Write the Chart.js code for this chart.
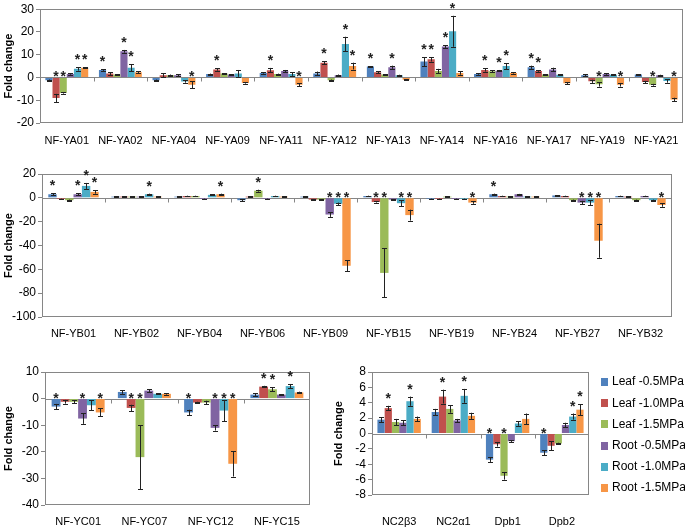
<!DOCTYPE html>
<html>
<head>
<meta charset="utf-8">
<script src="https://cdn.jsdelivr.net/npm/chart.js@4.4.0/dist/chart.umd.min.js"></script>
<style>
  html, body { margin: 0; padding: 0; background: #fff; overflow: hidden; width: 685px; height: 529px; }
  .panel { position: absolute; }
  canvas { display: block; }
</style>
</head>
<body>
<div class="panel" style="left:0;top:0;"><canvas id="chartA" width="685" height="150"></canvas></div>
<div class="panel" style="left:0;top:158px;"><canvas id="chartB" width="685" height="182"></canvas></div>
<div class="panel" style="left:0;top:345px;"><canvas id="chartC" width="340" height="184"></canvas></div>
<div class="panel" style="left:330px;top:345px;"><canvas id="chartD" width="355" height="184"></canvas></div>
<script>
const seriesNames = ['Leaf -0.5MPa', 'Leaf -1.0MPa', 'Leaf -1.5MPa', 'Root -0.5MPa', 'Root -1.0MPa', 'Root -1.5MPa'];
const seriesColors = ['#4F81BD', '#C0504D', '#9BBB59', '#8064A2', '#4BACC6', '#F79646'];

// panel A: NF-YA
const aCats = ['NF-YA01', 'NF-YA02', 'NF-YA04', 'NF-YA09', 'NF-YA11', 'NF-YA12', 'NF-YA13', 'NF-YA14', 'NF-YA16', 'NF-YA17', 'NF-YA19', 'NF-YA21'];
const aVals = [
  [-1.2, 3.3, -1.2, 1.5, 2.0, 1.8, 4.8, 7.0, 1.5, 4.5, 1.0, 1.3],
  [-9.0, 1.7, 1.0, 3.5, 3.2, 6.5, 2.3, 8.0, 3.3, 2.8, -1.7, -2.0],
  [-6.8, 1.3, 1.0, 1.7, 1.5, -1.2, 1.3, 2.8, 2.7, 1.3, -3.0, -3.2],
  [1.5, 11.5, 1.0, 1.3, 2.8, 1.0, 4.5, 13.6, 3.0, 3.5, 1.5, 1.0],
  [3.8, 4.3, -1.8, 1.8, 1.5, 14.7, 1.0, 20.3, 5.0, 1.2, 1.2, -1.5],
  [4.3, 2.3, -3.2, -2.4, -3.2, 5.0, -1.0, 2.0, 2.0, -2.5, -3.2, -9.7]
];
const aErrs = [
  [0.3, 0.4, 0.3, 0.2, 0.3, 0.8, 0.2, 2.0, 0.3, 0.7, 0.4, 0.2],
  [1.8, 0.6, 0.8, 0.5, 1.0, 0.7, 0.5, 1.0, 0.7, 0.3, 0.7, 0.5],
  [0.3, 0.2, 0.3, 0.2, 0.2, 0.3, 0.2, 1.0, 0.5, 0.2, 1.0, 0.4],
  [0.3, 0.6, 0.5, 0.2, 0.5, 0.3, 0.7, 0.6, 0.3, 0.8, 0.3, 0.2],
  [0.8, 1.5, 0.5, 1.5, 0.8, 3.2, 0.2, 6.8, 1.3, 0.2, 0.2, 0.8],
  [0.3, 0.4, 1.5, 0.3, 0.7, 1.5, 0.2, 0.8, 0.3, 0.5, 0.8, 0.8]
];
const aStars = [
  [0, 1, 0, 0, 0, 0, 1, 1, 0, 1, 0, 0],
  [1, 0, 0, 1, 1, 1, 0, 1, 1, 1, 0, 0],
  [1, 0, 0, 0, 0, 0, 0, 0, 0, 0, 1, 1],
  [0, 1, 0, 0, 0, 0, 1, 1, 1, 0, 0, 0],
  [1, 1, 0, 0, 0, 1, 0, 1, 1, 0, 0, 0],
  [1, 0, 1, 0, 1, 1, 0, 0, 0, 0, 1, 1]
];

// panel B: NF-YB
const bCats = ['NF-YB01', 'NF-YB02', 'NF-YB04', 'NF-YB06', 'NF-YB09', 'NF-YB15', 'NF-YB19', 'NF-YB24', 'NF-YB27', 'NF-YB32'];
const bVals = [
  [3.0, 1.0, 1.0, -2.0, 1.0, 1.5, -1.0, 3.0, 2.0, 1.5],
  [-1.0, 1.0, 1.5, 1.0, -1.5, -3.5, -1.0, 1.5, 1.5, 1.0],
  [-2.0, 1.0, 1.5, 6.0, -1.5, -63.0, 1.0, 1.0, -2.0, -2.0],
  [3.0, 1.0, -1.0, -1.0, -14.0, -1.5, -1.0, 3.0, -4.0, 1.5],
  [10.0, 3.0, 2.5, 1.5, -5.0, -4.5, -1.0, 1.0, -4.0, -2.0],
  [5.0, 1.0, 3.0, 1.0, -57.0, -14.5, -4.0, 1.0, -36.0, -6.0]
];
const bErrs = [
  [0.8, 0.3, 0.3, 1.0, 0.3, 0.3, 0.3, 0.5, 0.3, 0.3],
  [0.3, 0.3, 0.3, 0.3, 0.3, 0.5, 0.3, 0.3, 0.3, 0.3],
  [0.5, 0.3, 0.3, 0.8, 0.3, 20.5, 0.3, 0.3, 0.5, 0.5],
  [0.8, 0.3, 0.3, 0.3, 2.0, 0.3, 0.3, 0.3, 1.5, 0.3],
  [2.5, 0.5, 0.5, 0.3, 1.0, 2.5, 0.3, 0.3, 2.0, 0.5],
  [1.5, 0.3, 0.5, 0.3, 4.8, 4.6, 1.0, 0.3, 14.3, 1.5]
];
const bStars = [
  [1, 0, 0, 0, 0, 0, 0, 1, 0, 0],
  [0, 0, 0, 0, 0, 1, 0, 0, 0, 0],
  [0, 0, 0, 1, 0, 1, 0, 0, 0, 0],
  [1, 0, 0, 0, 1, 0, 0, 0, 1, 0],
  [1, 1, 0, 0, 1, 1, 0, 0, 1, 0],
  [1, 0, 1, 0, 1, 1, 1, 0, 1, 1]
];

// panel C: NF-YC
const cCats = ['NF-YC01', 'NF-YC07', 'NF-YC12', 'NF-YC15'];
const cVals = [
  [-3.0, 2.5, -5.2, 1.5],
  [-1.2, -3.5, -1.5, 4.5],
  [-1.2, -22.0, -1.5, 3.5],
  [-7.5, 3.0, -11.0, 1.5],
  [-2.5, 1.8, -4.5, 4.7],
  [-5.2, 1.8, -24.5, 2.3]
];
const cErrs = [
  [1.0, 0.7, 1.0, 0.5],
  [0.7, 1.2, 0.3, 0.3],
  [0.5, 12.0, 0.7, 0.7],
  [2.0, 0.5, 1.0, 0.2],
  [1.8, 0.2, 4.0, 0.8],
  [1.5, 0.3, 4.8, 0.3]
];
const cStars = [
  [1, 0, 1, 0],
  [0, 1, 0, 1],
  [0, 1, 0, 1],
  [1, 0, 1, 0],
  [0, 0, 1, 1],
  [1, 0, 1, 0]
];

// panel D: NC2 / Dpb
const dCats = ['NC2β3', 'NC2α1', 'Dpb1', 'Dpb2'];
const dVals = [
  [1.8, 2.8, -3.4, -2.5],
  [3.3, 4.8, -1.4, -1.6],
  [1.5, 3.2, -5.5, -1.3],
  [1.4, 1.7, -1.0, 1.1],
  [4.2, 4.9, 1.3, 2.2],
  [1.9, 2.3, 1.9, 3.1]
];
const dErrs = [
  [0.3, 0.4, 0.3, 0.3],
  [0.3, 0.9, 0.3, 0.6],
  [0.4, 0.5, 0.5, 0.1],
  [0.3, 0.2, 0.1, 0.3],
  [0.6, 0.9, 0.3, 0.4],
  [0.3, 0.4, 0.7, 0.7]
];
const dStars = [
  [0, 0, 1, 1],
  [1, 1, 0, 0],
  [0, 0, 1, 0],
  [0, 0, 0, 0],
  [1, 1, 0, 1],
  [0, 0, 0, 1]
];

const FONT = 'Liberation Sans';

// frame, zero line, category ticks, error bars and asterisks
const excelStyle = {
  id: 'excelStyle',
  beforeDatasetsDraw(chart) {
    const { ctx, chartArea: a, scales: { x, y } } = chart;
    const y0 = Math.round(y.getPixelForValue(0)) + 0.5;
    ctx.save();
    ctx.strokeStyle = '#868686';
    ctx.lineWidth = 1;
    ctx.strokeRect(Math.round(a.left) + 0.5, Math.round(a.top) + 0.5, Math.round(a.right - a.left) - 1, Math.round(a.bottom - a.top) - 1);
    ctx.beginPath();
    ctx.moveTo(a.left, y0);
    ctx.lineTo(a.right, y0);
    const n = x.ticks.length;
    const w = (a.right - a.left) / n;
    for (let i = 1; i < n; i++) {
      const px = Math.round(a.left + i * w) + 0.5;
      ctx.moveTo(px, y0);
      ctx.lineTo(px, y0 + 4);
    }
    ctx.stroke();
    ctx.restore();
  },
  afterDatasetsDraw(chart) {
    const { ctx, scales: { y } } = chart;
    const y0 = y.getPixelForValue(0);
    ctx.save();
    chart.data.datasets.forEach((ds, i) => {
      const meta = chart.getDatasetMeta(i);
      meta.data.forEach((bar, j) => {
        const v = ds.data[j];
        const e = ds.errors[j];
        const yt = y.getPixelForValue(v + e);
        const yb = y.getPixelForValue(v - e);
        ctx.strokeStyle = '#222';
        ctx.lineWidth = 1;
        ctx.beginPath();
        const bx = Math.round(bar.x) + 0.5;
        ctx.moveTo(bx, yt); ctx.lineTo(bx, yb);
        ctx.moveTo(bx - 2.5, Math.round(yt) + 0.5); ctx.lineTo(bx + 2.5, Math.round(yt) + 0.5);
        ctx.moveTo(bx - 2.5, Math.round(yb) + 0.5); ctx.lineTo(bx + 2.5, Math.round(yb) + 0.5);
        ctx.stroke();
        if (ds.stars[j]) {
          ctx.fillStyle = '#222';
          ctx.font = 'bold 14px ' + FONT;
          ctx.textAlign = 'center';
          ctx.textBaseline = 'alphabetic';
          const sy = v > 0 ? yt - 3 : y0 + 4;
          ctx.fillText('*', bar.x, sy);
        }
      });
    });
    ctx.restore();
  }
};

// legend drawn next to the plot, Excel style
const sideLegend = {
  id: 'sideLegend',
  afterDraw(chart, args, opts) {
    if (!opts.show) return;
    const { ctx, chartArea: a } = chart;
    ctx.save();
    ctx.font = '12px ' + FONT;
    ctx.textBaseline = 'middle';
    ctx.textAlign = 'left';
    chart.data.datasets.forEach((ds, i) => {
      const cy = a.top + 10 + i * 21.2;
      const bx = a.right + 12;
      ctx.fillStyle = ds.backgroundColor;
      ctx.fillRect(bx, Math.round(cy - 4), 7, 8);
      ctx.fillStyle = '#000';
      ctx.fillText(ds.label, bx + 11, cy);
    });
    ctx.restore();
  }
};

function makeChart(id, cats, vals, errs, stars, yMin, yMax, step, lay) {
  const datasets = seriesNames.map((name, i) => ({
    label: name,
    data: vals[i],
    errors: errs[i],
    stars: stars[i],
    backgroundColor: seriesColors[i],
    borderWidth: 0,
    categoryPercentage: 0.8,
    barPercentage: 1.0
  }));
  return new Chart(document.getElementById(id), {
    type: 'bar',
    data: { labels: cats, datasets: datasets },
    options: {
      responsive: false,
      animation: false,
      layout: { padding: lay.padding },
      plugins: {
        tooltip: { enabled: false },
        legend: { display: false },
        sideLegend: { show: !!lay.legend }
      },
      scales: {
        x: {
          grid: { display: false },
          border: { display: false },
          ticks: { color: '#000', padding: lay.xPad, maxRotation: 0, autoSkip: false, font: { family: FONT, size: 11 } },
          afterFit: (s) => { s.height = lay.xH; }
        },
        y: {
          min: yMin,
          max: yMax,
          grid: { display: true, drawOnChartArea: false, tickLength: 4, color: '#868686' },
          border: { display: false },
          ticks: { stepSize: step, autoSkip: false, color: '#000', padding: 2, font: { family: FONT, size: 12 } },
          title: { display: true, text: 'Fold change', color: '#000', padding: { top: 2, bottom: 2 }, font: { family: FONT, size: 11, weight: 'bold' } },
          afterFit: (s) => { s.width = lay.yW; }
        }
      }
    },
    plugins: [excelStyle, sideLegend]
  });
}

makeChart('chartA', aCats, aVals, aErrs, aStars, -20, 30, 10,
  { padding: { top: 6, right: 2, left: 0, bottom: 0 }, xPad: 3, xH: 27, yW: 40 });
makeChart('chartB', bCats, bVals, bErrs, bStars, -100, 20, 20,
  { padding: { top: 16, right: 13, left: 0, bottom: 0 }, xPad: 2, xH: 23, yW: 42 });
makeChart('chartC', cCats, cVals, cErrs, cStars, -40, 10, 10,
  { padding: { top: 27, right: 30, left: 0, bottom: 0 }, xPad: 2, xH: 24, yW: 45 });
makeChart('chartD', dCats, dVals, dErrs, dStars, -8, 8, 2,
  { padding: { top: 27, right: 96, left: 0, bottom: 0 }, xPad: 12, xH: 34, yW: 42, legend: true });
</script>
</body>
</html>
